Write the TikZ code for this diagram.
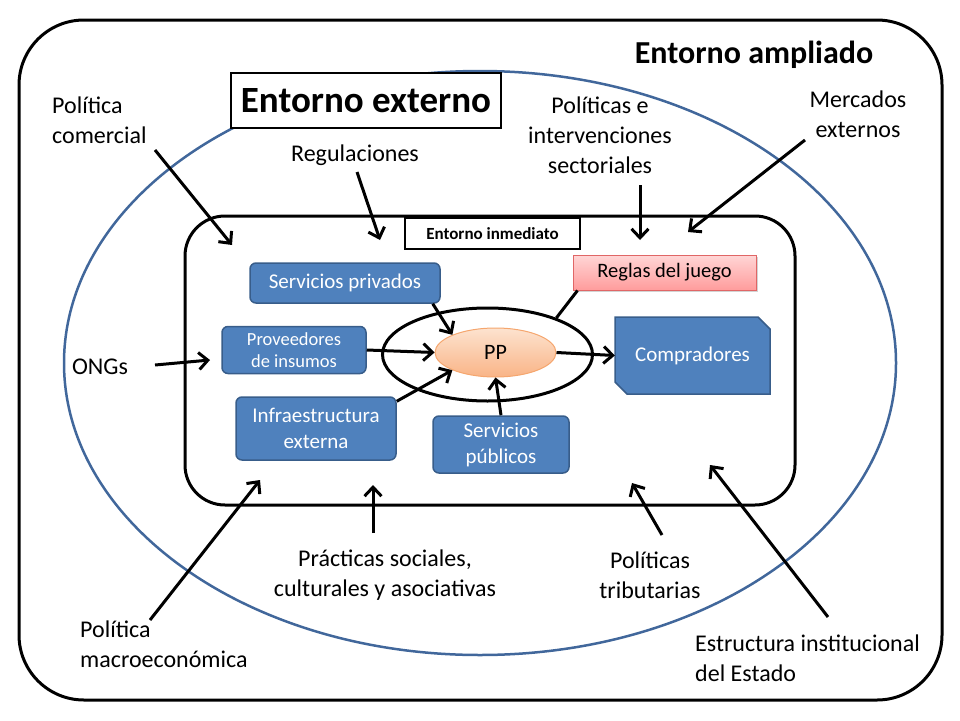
\documentclass[tikz,border=0pt]{standalone}
\usepackage{fontspec}
\setmainfont{Carlito}
\usepackage{tikz}
\usetikzlibrary{arrows.meta, shapes.geometric, shadows}

\definecolor{boxblue}{HTML}{4F81BD}
\definecolor{boxline}{HTML}{385D8A}
\definecolor{ringblue}{HTML}{41679B}
\definecolor{pinktop}{HTML}{FFD6D6}
\definecolor{pinkbot}{HTML}{FF9C9C}
\definecolor{pinkline}{HTML}{E06666}
\definecolor{pptop}{HTML}{FDE3CF}
\definecolor{ppbot}{HTML}{F9B487}
\definecolor{ppline}{HTML}{F5A66E}

\begin{document}
\begin{tikzpicture}[x=1pt, y=-1pt,
    bluebox/.style={rectangle, draw=boxline, line width=1.5pt, fill=boxblue, rounded corners=6pt, text=white, align=center, font=\fontsize{21}{26}\selectfont, inner sep=0pt},
    titlebox/.style={rectangle, draw, line width=2.2pt, fill=white, inner sep=0pt},
    outlbl/.style={align=center, font=\fontsize{24}{30}\selectfont, inner sep=0pt},
    arr/.style={-{Straight Barb[length=9pt, width=17pt]}, line width=3pt},
    ]
    \useasboundingbox (0,0) rectangle (960,720);

    % frames
    \draw[line width=3pt, rounded corners=65pt] (19,20) rectangle (942,700);
    \draw[ringblue, line width=2.5pt] (480,363) ellipse [x radius=416pt, y radius=292pt];
    \draw[line width=3pt, rounded corners=40pt] (185,216) rectangle (795,505);

    \node[font=\bfseries\fontsize{32}{38}\selectfont] (ampliado) at (754,55) {Entorno ampliado};
    \node[titlebox, minimum width=270pt, minimum height=55pt, font=\bfseries\fontsize{37}{42}\selectfont] (externo) at (366,100.5) {Entorno externo};
    \node[titlebox, minimum width=175pt, minimum height=31pt, font=\bfseries\fontsize{17}{20}\selectfont] (inmediato) at (492.5,233.5) {Entorno inmediato};

    % immediate environment
    \node[ellipse, draw, line width=3pt, minimum width=210pt, minimum height=93pt] (core) at (487.5,354.5) {};
    \node[ellipse, draw=ppline, line width=1pt, top color=pptop, bottom color=ppbot, minimum width=121pt, minimum height=49pt, font=\fontsize{22}{26}\selectfont] (pp) at (495.5,352.5) {PP};
    \node[bluebox, minimum width=190pt, minimum height=40pt] (privados) at (345,283) {Servicios privados};
    \node[bluebox, minimum width=144pt, minimum height=47pt, font=\fontsize{18.5}{22}\selectfont] (insumos) at (294,350) {Proveedores\\de insumos};
    \node[bluebox, minimum width=160pt, minimum height=63pt, font=\fontsize{21}{26}\selectfont] (infra) at (316,428.5) {Infraestructura\\externa};
    \node[bluebox, minimum width=136pt, minimum height=57pt, font=\fontsize{21}{26}\selectfont] (publicos) at (501,444.5) {Servicios\\públicos};
    \filldraw[draw=boxline, line width=1.5pt, fill=boxblue] (615,317) -- (758,317) -- (770,329) -- (770,394) -- (627,394) -- (615,382) -- cycle;
    \node[text=white, inner sep=0pt, minimum width=155pt, minimum height=77pt, font=\fontsize{21}{25}\selectfont] (compradores) at (692.5,355.5) {Compradores};
    \node[rectangle, draw=pinkline, line width=1pt, top color=pinktop, bottom color=pinkbot, drop shadow={shadow xshift=2pt, shadow yshift=-2pt, opacity=0.35}, minimum width=183pt, minimum height=35pt, inner sep=0pt, font=\fontsize{20.5}{24}\selectfont] (reglas) at (664.5,272.5) {Reglas del juego};

    \draw[arr] ([xshift=-8pt]privados.south east) -- (pp.north west);
    \draw[arr] (insumos.east) -- (pp.west);
    \draw[arr] ([yshift=-5pt]infra.north east) -- (pp.south west);
    \draw[arr] (publicos.north) -- (pp.south);
    \draw[arr] (pp.east) -- (compradores.west);
    \draw[line width=3pt] (core.28) -- ([xshift=5pt]reglas.south west);

    % outer influences
    \node[outlbl, align=left, anchor=west] (comercial) at (52,120) {Política\\comercial};
    \node[outlbl] (regulaciones) at (355,155) {Regulaciones};
    \node[outlbl] (sectoriales) at (600,135) {Políticas e\\intervenciones\\sectoriales};
    \node[outlbl] (mercados) at (858,114) {Mercados\\externos};
    \node[outlbl] (ongs) at (100,367) {ONGs};
    \node[outlbl, align=left, anchor=west] (macro) at (80,644) {Política\\macroeconómica};
    \node[outlbl] (practicas) at (385,575) {Prácticas sociales,\\culturales y asociativas};
    \node[outlbl] (tributarias) at (650,575) {Políticas\\tributarias};
    \node[outlbl, align=left, anchor=west] (estructura) at (695,658) {Estructura institucional\\del Estado};

    \coordinate (c1) at (155,150);  \coordinate (h1) at (232,245);
    \coordinate (c2) at (357,172);  \coordinate (h2) at (380,240);
    \coordinate (c3) at (640,185);  \coordinate (h3) at (640,240);
    \coordinate (c4) at (805,140);  \coordinate (h4) at (688,232);
    \coordinate (c5) at (155,365);  \coordinate (h5) at (210,360);
    \coordinate (c6) at (150,620);  \coordinate (h6) at (260,480);
    \coordinate (c7) at (373,533);  \coordinate (h7) at (373,485);
    \coordinate (c8) at (662,535);  \coordinate (h8) at (632,483);
    \coordinate (c9) at (828,617);  \coordinate (h9) at (710,465);
    \foreach \i in {1,...,9}
        \draw[arr] (c\i) -- (h\i);
\end{tikzpicture}
\end{document}
